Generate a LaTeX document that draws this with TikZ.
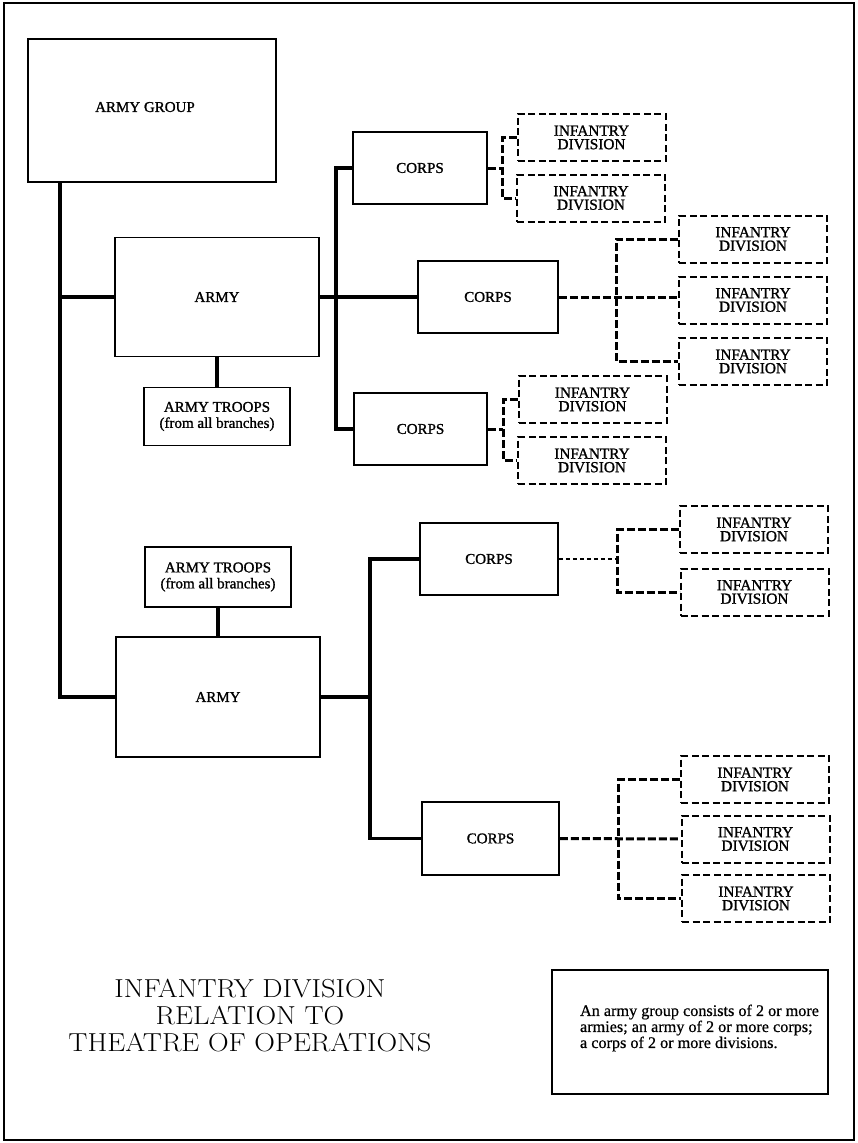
\documentclass[tikz,border=0pt]{standalone}
\usepackage{fontspec}
\newfontfamily\lab[FakeBold=1.2]{Liberation Serif}
\newfontfamily\notefont[FakeBold=0.6]{Liberation Serif}
\newfontfamily\titlefont[FakeStretch=1.1]{Latin Modern Roman}
\begin{document}
\begin{tikzpicture}[x=1pt,y=-1pt,
  box/.style={draw, line width=1.5pt, inner sep=0pt, align=center, font=\lab\fontsize{15}{15}\selectfont},
  armybox/.style={box, minimum width=204pt, minimum height=119pt},
  corpsbox/.style={box, minimum width=136pt, minimum height=72pt},
  troopbox/.style={box, minimum width=146pt, minimum height=58pt, font=\lab\fontsize{15}{16}\selectfont},
  divbox/.style={box, dash pattern=on 7pt off 3.5pt, line width=2pt, minimum width=148pt, minimum height=47pt, font=\lab\fontsize{15.3}{13.5}\selectfont},
  conn/.style={line width=3.4pt},
  dconn/.style={line width=3pt, dash pattern=on 8pt off 3pt},
  fconn/.style={line width=2.4pt, dash pattern=on 4.5pt off 2.5pt},
]
\useasboundingbox (0,0) rectangle (858,1143);
\draw[line width=1.3pt] (4,3) rectangle (854,1140);

% main boxes
\node[box, minimum width=248pt, minimum height=143pt] (ag) at (152,110.5) {\raisebox{7pt}{ARMY GROUP}\hspace{14pt}};
\node[armybox] (army1) at (217,297) {ARMY};
\node[troopbox] (at1) at (217,416.5) {ARMY TROOPS\\(from all branches)};
\node[troopbox, minimum height=60pt] (at2) at (218,577) {ARMY TROOPS\\(from all branches)};
\node[armybox, minimum height=120pt] (army2) at (218,697) {ARMY};

% corps
\node[corpsbox, minimum width=134pt] (c1) at (420,168) {CORPS};
\node[corpsbox, minimum width=140pt] (c2) at (488,297) {CORPS};
\node[corpsbox, minimum width=133pt] (c3) at (420.5,429) {CORPS};
\node[corpsbox, minimum width=138pt] (c4) at (489,559) {CORPS};
\node[corpsbox, minimum width=137pt, minimum height=73pt] (c5) at (490.5,838.5) {CORPS};

% divisions
\node[divbox] (d1a) at (591.5,137.5) {INFANTRY\\DIVISION};
\node[divbox] (d1b) at (591,198) {INFANTRY\\DIVISION};
\node[divbox] (d2a) at (753,239) {INFANTRY\\DIVISION};
\node[divbox] (d2b) at (753,300) {INFANTRY\\DIVISION};
\node[divbox] (d2c) at (753,361.5) {INFANTRY\\DIVISION};
\node[divbox] (d3a) at (592.5,399.5) {INFANTRY\\DIVISION};
\node[divbox] (d3b) at (592,460.5) {INFANTRY\\DIVISION};
\node[divbox] (d4a) at (754,529.5) {INFANTRY\\DIVISION};
\node[divbox] (d4b) at (754.5,592) {INFANTRY\\DIVISION};
\node[divbox] (d5a) at (755,779.5) {INFANTRY\\DIVISION};
\node[divbox] (d5b) at (755.5,839) {INFANTRY\\DIVISION};
\node[divbox] (d5c) at (756,898.5) {INFANTRY\\DIVISION};

% bus coordinates
\coordinate (bx) at (60,400);
\coordinate (b1) at (336,297);
\coordinate (b2) at (370,697);
\coordinate (q1) at (502,168);
\coordinate (q2) at (616,300);
\coordinate (q3) at (503,429);
\coordinate (q4) at (617,559);
\coordinate (q5) at (618,839);

% solid connectors
\draw[conn] (ag.south -| bx) |- (army2.west);
\draw[conn] (army1.west -| bx) -- (army1.west);
\draw[conn] (army1.south) -- (at1.north);
\draw[conn] (at2.south) -- (army2.north);
\draw[conn] (army1.east) -- (c2.west);
\draw[conn] (c1.west) -| (b1) |- (c3.west);
\draw[conn] (army2.east) -- (b2);
\draw[conn] (c4.west) -| (b2) |- (c5.west);

% dashed connectors
\draw[dconn] (c1.east) -- (q1);
\draw[dconn] (d1a.west) -| (q1) |- (d1b.west);
\draw[dconn] (c2.east) -- (c2.east -| d2b.west);
\draw[dconn] (d2a.west) -| (q2) |- (d2c.west);
\draw[dconn] (c3.east) -- (q3);
\draw[dconn] (d3a.west) -| (q3) |- (d3b.west);
\draw[fconn] (c4.east) -- (q4);
\draw[dconn] (d4a.west) -| (q4) |- (d4b.west);
\draw[dconn] (c5.east) -- (d5b.west);
\draw[dconn] (d5a.west) -| (q5) |- (d5c.west);

% title and note
\node[font=\titlefont\fontsize{26}{27}\selectfont, align=center, inner sep=0pt] (title) at (250,1016) {INFANTRY DIVISION\\RELATION TO\\THEATRE OF OPERATIONS};
\node[draw, line width=1.8pt, minimum width=276pt, minimum height=124pt] (note) at (690,1032) {};
\node[font=\notefont\fontsize{16.2}{16}\selectfont, align=left, inner sep=0pt] (notetext) at (699.5,1028) {An army group consists of 2 or more\\armies; an army of 2 or more corps;\\a corps of 2 or more divisions.};
\end{tikzpicture}
\end{document}
